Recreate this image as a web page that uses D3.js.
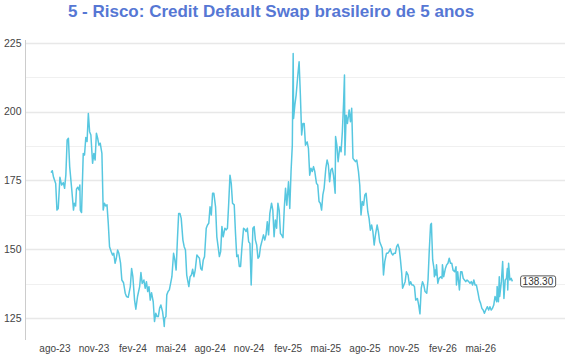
<!DOCTYPE html>
<html>
<head>
<meta charset="utf-8">
<script src="https://cdn.jsdelivr.net/npm/d3@7"></script>
<style>
  html, body { margin: 0; padding: 0; background: #fff; }
  svg { display: block; font-family: "Liberation Sans", Arial, Helvetica, sans-serif; }
</style>
</head>
<body>
<svg id="chart" width="570" height="360"></svg>
<script>
// ---- DATA ----
const title = "5 - Risco: Credit Default Swap brasileiro de 5 anos";

const dates2023 = ["2023-07-24","2023-07-27","2023-07-30","2023-08-04","2023-08-07","2023-08-10","2023-08-14","2023-08-18","2023-08-22","2023-08-25","2023-08-28","2023-08-31","2023-09-03","2023-09-06","2023-09-11","2023-09-15","2023-09-17","2023-09-20","2023-09-22","2023-09-25","2023-09-28","2023-09-30","2023-10-01","2023-10-04","2023-10-08","2023-10-11","2023-10-14","2023-10-17","2023-10-20","2023-10-23","2023-10-26","2023-10-30","2023-11-02","2023-11-05","2023-11-08","2023-11-11","2023-11-14","2023-11-17","2023-11-21","2023-11-24","2023-11-27","2023-11-30","2023-12-03","2023-12-06","2023-12-09","2023-12-13","2023-12-16","2023-12-19","2023-12-22","2023-12-25","2023-12-28","2023-12-31"];
const cds2023 = [177.8,178.5,176.1,173.9,164.2,164.8,176.1,173.3,174.2,172.1,177.0,189.7,190.3,180.0,171.5,164.2,166.7,165.7,171.8,172.5,171.5,173.3,164.2,163.3,184.8,184.2,190.6,189.1,199.3,192.7,191.5,181.2,184.8,182.4,192.1,190.3,187.8,188.5,184.8,164.2,166.7,165.7,166.1,159.4,150.9,149.1,147.9,148.5,144.9,146.7,149.7,148.5];

const dates2024 = ["2024-01-04","2024-01-07","2024-01-11","2024-01-15","2024-01-18","2024-01-22","2024-01-27","2024-01-30","2024-02-02","2024-02-06","2024-02-09","2024-02-13","2024-02-18","2024-02-21","2024-02-24","2024-02-28","2024-03-02","2024-03-05","2024-03-08","2024-03-11","2024-03-14","2024-03-17","2024-03-21","2024-03-24","2024-03-27","2024-03-30","2024-04-02","2024-04-05","2024-04-08","2024-04-12","2024-04-15","2024-04-16","2024-04-17","2024-04-20","2024-04-22","2024-04-25","2024-04-28","2024-05-01","2024-05-04","2024-05-08","2024-05-11","2024-05-14","2024-05-17","2024-05-20","2024-05-23","2024-05-26","2024-05-30","2024-06-02","2024-06-05","2024-06-08","2024-06-13","2024-06-16","2024-06-19","2024-06-22","2024-06-25","2024-06-28","2024-07-02","2024-07-05","2024-07-08","2024-07-11","2024-07-14","2024-07-17","2024-07-20","2024-07-24","2024-07-27","2024-07-30","2024-08-02","2024-08-05","2024-08-08","2024-08-11","2024-08-15","2024-08-18","2024-08-21","2024-08-24","2024-08-27","2024-08-30","2024-09-02","2024-09-06","2024-09-09","2024-09-12","2024-09-15","2024-09-18","2024-09-21","2024-09-24","2024-09-28","2024-10-01","2024-10-04","2024-10-07","2024-10-10","2024-10-13","2024-10-16","2024-10-20","2024-10-23","2024-10-26","2024-10-29","2024-11-01","2024-11-04","2024-11-07","2024-11-11","2024-11-14","2024-11-17","2024-11-20","2024-11-23","2024-11-26","2024-11-29","2024-12-03","2024-12-06","2024-12-09","2024-12-12","2024-12-15","2024-12-18","2024-12-21","2024-12-25","2024-12-28","2024-12-31"];
const cds2024 = [144.9,138.8,137.8,134.0,132.8,132.5,136.4,143.0,140.0,131.5,128.2,132.8,136.4,141.5,137.6,138.8,135.8,138.2,134.6,136.4,131.5,134.2,130.9,123.7,126.7,125.5,125.5,128.5,129.7,127.3,123.7,121.9,124.9,125.5,133.4,134.6,135.2,137.6,140.0,148.5,146.1,142.4,153.3,163.0,163.0,161.2,153.3,150.9,149.7,140.6,136.4,140.0,140.6,142.7,140.0,142.4,147.9,147.3,146.7,143.0,142.4,146.1,147.3,157.6,158.8,159.4,165.4,162.4,170.3,170.3,165.4,154.5,150.9,147.3,149.1,158.2,154.5,157.6,157.0,157.6,166.7,176.9,173.9,166.7,166.1,155.8,147.3,147.9,143.7,143.7,150.3,157.6,157.2,156.4,157.6,152.7,152.1,137.0,157.6,158.2,153.3,151.5,146.7,147.3,150.9,153.3,155.2,153.3,155.2,160.0,155.2,163.0,166.7,164.2,154.5];

const dates2025 = ["2025-01-03","2025-01-06","2025-01-09","2025-01-12","2025-01-15","2025-01-18","2025-01-21","2025-01-24","2025-01-27","2025-01-30","2025-02-03","2025-02-06","2025-02-09","2025-02-12","2025-02-14","2025-02-15","2025-02-18","2025-02-21","2025-02-25","2025-02-28","2025-03-03","2025-03-06","2025-03-09","2025-03-12","2025-03-15","2025-03-19","2025-03-22","2025-03-25","2025-03-28","2025-03-31","2025-04-03","2025-04-06","2025-04-10","2025-04-13","2025-04-16","2025-04-19","2025-04-22","2025-04-25","2025-04-28","2025-05-02","2025-05-05","2025-05-08","2025-05-11","2025-05-14","2025-05-17","2025-05-20","2025-05-24","2025-05-25","2025-05-28","2025-05-31","2025-06-04","2025-06-07","2025-06-10","2025-06-13","2025-06-15","2025-06-16","2025-06-19","2025-06-22","2025-06-26","2025-06-29","2025-07-02","2025-07-05","2025-07-08","2025-07-11","2025-07-14","2025-07-18","2025-07-21","2025-07-24","2025-07-27","2025-07-30","2025-08-02","2025-08-05","2025-08-09","2025-08-12","2025-08-15","2025-08-18","2025-08-21","2025-08-24","2025-08-27","2025-08-31","2025-09-03","2025-09-06","2025-09-09","2025-09-12","2025-09-15","2025-09-18","2025-09-22","2025-09-25","2025-09-28","2025-10-01","2025-10-04","2025-10-07","2025-10-10","2025-10-13","2025-10-16","2025-10-19","2025-10-22","2025-10-25","2025-10-28","2025-10-30","2025-11-02","2025-11-05","2025-11-08","2025-11-12","2025-11-15","2025-11-18","2025-11-21","2025-11-24","2025-11-27","2025-11-30","2025-12-04","2025-12-07","2025-12-10","2025-12-13","2025-12-16","2025-12-19","2025-12-22","2025-12-26","2025-12-29"];
const cds2025 = [160.6,157.6,166.7,164.2,155.7,155.1,154.2,164.8,172.1,166.0,174.5,164.8,178.2,187.8,221.1,197.5,202.4,206.0,213.3,218.1,206.0,191.5,195.7,195.7,187.8,189.0,186.6,176.9,179.4,178.2,180.0,178.2,173.9,173.3,167.3,166.7,164.2,169.7,172.1,179.4,182.4,180.6,174.5,178.8,179.4,176.9,170.3,190.9,187.8,181.8,187.2,185.4,192.7,203.6,213.3,184.2,198.7,195.7,200.6,196.3,201.2,183.0,182.4,181.8,182.4,178.2,173.3,162.4,167.3,166.0,169.7,170.3,163.6,161.2,156.9,158.8,156.4,151.5,155.1,158.8,156.4,152.7,151.5,150.3,140.6,145.5,148.5,148.5,149.1,150.1,148.5,147.9,148.5,148.5,150.9,151.8,150.3,146.1,141.2,135.8,137.0,138.2,141.8,140.6,137.0,138.2,137.0,137.0,136.4,131.5,132.1,129.7,126.5,135.8,138.2,137.0,134.6,134.0,138.8];

const dates2026 = ["2026-01-01","2026-01-04","2026-01-06","2026-01-07","2026-01-09","2026-01-12","2026-01-13","2026-01-15","2026-01-17","2026-01-18","2026-01-21","2026-01-24","2026-01-28","2026-01-31","2026-02-01","2026-02-04","2026-02-08","2026-02-11","2026-02-14","2026-02-17","2026-02-20","2026-02-23","2026-02-26","2026-03-02","2026-03-05","2026-03-06","2026-03-09","2026-03-13","2026-03-16","2026-03-19","2026-03-22","2026-03-25","2026-03-28","2026-03-31","2026-04-04","2026-04-07","2026-04-10","2026-04-13","2026-04-16","2026-04-19","2026-04-22","2026-04-26","2026-04-29","2026-05-02","2026-05-05","2026-05-08","2026-05-11","2026-05-14","2026-05-18","2026-05-21","2026-05-24","2026-05-27","2026-05-30","2026-06-02","2026-06-05","2026-06-09","2026-06-10","2026-06-13","2026-06-15","2026-06-16","2026-06-20","2026-06-23","2026-06-26","2026-06-29","2026-07-02","2026-07-04","2026-07-05","2026-07-07","2026-07-10","2026-07-13","2026-07-16"];
const cds2026 = [149.7,158.8,159.4,154.5,146.1,143.0,140.0,142.4,140.6,144.3,137.6,139.4,140.0,139.4,144.3,140.0,143.0,144.3,144.9,146.7,144.9,144.9,142.4,141.8,143.6,137.0,141.8,135.2,141.8,141.8,139.4,138.8,138.2,138.8,138.2,137.6,138.2,137.0,138.8,137.0,137.0,134.0,131.5,130.3,128.5,127.9,126.7,127.9,129.1,127.9,129.1,127.9,128.5,129.7,132.8,130.9,136.4,130.9,140.0,132.8,138.2,145.5,132.1,138.8,139.4,143.0,135.2,144.9,138.8,139.4,138.3];

const lastValueLabel = "138.30";

const xTickDates = ["2023-08-01","2023-11-01","2024-02-01","2024-05-01","2024-08-01","2024-11-01","2025-02-01","2025-05-01","2025-08-01","2025-11-01","2026-02-01","2026-05-01"];
const monthNames = ["jan","fev","mar","abr","mai","jun","jul","ago","set","out","nov","dez"];
const yTickValues = [125, 150, 175, 200, 225];
const yGridValues = [125, 137.5, 150, 162.5, 175, 187.5, 200, 212.5, 225];
const xDomain = ["2023-05-26", "2026-11-17"];
const yDomain = [117, 226];

// ---- BUILD ----
const parse = d3.utcParse("%Y-%m-%d");
const allDates = dates2023.concat(dates2024, dates2025, dates2026);
const allVals = cds2023.concat(cds2024, cds2025, cds2026);
const series = allDates.map((d, i) => ({ date: parse(d), value: allVals[i] }));

const svg = d3.select("#chart");
const mLeft = 26, mRight = 565, mTop = 40, mBottom = 340;

const x = d3.scaleUtc().domain(xDomain.map(parse)).range([mLeft, mRight]);
const y = d3.scaleLinear().domain(yDomain).range([mBottom, mTop]);

// Title
svg.append("text")
  .attr("x", 271).attr("y", 17)
  .attr("text-anchor", "middle")
  .attr("font-size", 17).attr("font-weight", "bold")
  .attr("fill", "#5677d4")
  .text(title);

// Gridlines
svg.append("g").selectAll("line").data(yGridValues).join("line")
  .attr("x1", mLeft).attr("x2", mRight)
  .attr("y1", d => Math.round(y(d)) + 0.5).attr("y2", d => Math.round(y(d)) + 0.5)
  .attr("stroke", d => (d % 25 === 0) ? "#e8e8e8" : "#f0f0f0")
  .attr("stroke-width", d => (d % 25 === 0) ? 1.3 : 1);

// Y axis
const yAxis = d3.axisLeft(y).tickValues(yTickValues).tickSize(0).tickPadding(4).tickFormat(d3.format("d"));
const gy = svg.append("g").attr("transform", `translate(${mLeft - 0.5},0)`).call(yAxis);
gy.select(".domain").attr("stroke", "#cccccc").attr("d", `M0,${mTop}V${mBottom}`);
gy.selectAll("text").attr("font-size", 10.5).attr("fill", "#444").attr("font-family", "Liberation Sans, Arial, sans-serif");

// X axis
const fmt = d => monthNames[d.getUTCMonth()] + "-" + String(d.getUTCFullYear()).slice(2);
const xAxis = d3.axisBottom(x).tickValues(xTickDates.map(parse)).tickSize(0).tickPadding(5).tickFormat(fmt);
const gx = svg.append("g").attr("transform", `translate(0,${mBottom})`).call(xAxis);
gx.select(".domain").remove();
gx.selectAll("text").attr("font-size", 10).attr("fill", "#444").attr("font-family", "Liberation Sans, Arial, sans-serif");

// Line
const line = d3.line().x(d => x(d.date)).y(d => y(d.value));
svg.append("path").datum(series)
  .attr("fill", "none")
  .attr("stroke", "#57c7e0")
  .attr("stroke-width", 1.5)
  .attr("stroke-linejoin", "round")
  .attr("d", line);

// Last value label
const last = series[series.length - 1];
const lx = x(last.date) + 8.5, ly = y(last.value);
const lbl = svg.append("g");
const lt = lbl.append("text")
  .attr("x", lx + 17).attr("y", ly)
  .attr("dy", "0.36em")
  .attr("text-anchor", "middle")
  .attr("font-size", 10).attr("fill", "#333")
  .text(lastValueLabel);
const bb = lt.node().getBBox();
lbl.insert("rect", "text")
  .attr("x", bb.x - 2).attr("y", ly - 5.5)
  .attr("width", bb.width + 4).attr("height", 11)
  .attr("rx", 2)
  .attr("fill", "#fff").attr("stroke", "#444").attr("stroke-width", 0.9);
</script>
</body>
</html>
